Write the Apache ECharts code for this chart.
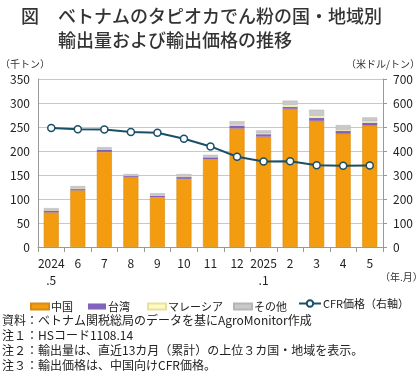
<!DOCTYPE html>
<html><head><meta charset="utf-8">
<script src="https://cdn.jsdelivr.net/npm/echarts@6/dist/echarts.min.js"></script>
<style>html,body{margin:0;padding:0;background:#fff}#c{width:420px;height:378px}</style>
</head><body><div id="c"></div>
<script>
const categories = ['2024\n.5','6','7','8','9','10','11','12','2025\n.1','2','3','4','5'];
const china    = [72,118,198,145,104,142,183,247,230,288,263,236,253];
const taiwan   = [4,3,5,3,3,4,4,6,5,4,6,6,6];
const malaysia = [1,1,1,1,1,1,1,2,2,4,4,2,3];
const other    = [4,5,4,3,4,5,4,7,6,9,13,10,8];
const cfr      = [496,491,490,479,476,451,419,376,356,357,341,339,340];
const seriesNames = ['中国','台湾','マレーシア','その他','CFR価格（右軸）'];
const notes = [
 '資料：ベトナム関税総局のデータを基にAgroMonitor作成',
 '注１：HSコード1108.14',
 '注２：輸出量は、直近13カ月（累計）の上位３カ国・地域を表示。',
 '注３：輸出価格は、中国向けCFR価格。'
];
const FF = '"Noto Sans CJK JP", "Noto Sans", sans-serif';
const chart = echarts.init(document.getElementById('c'), null, {renderer:'canvas'});
const barW = 15;
const legendX = [30, 88, 147, 233, 298];
const legends = seriesNames.map((n,i)=>({
  top:i===4?298:301,left:legendX[i],padding:0,itemWidth:i===4?22:18,itemHeight:i===4?8:6,itemGap:4,
  textStyle:{fontSize:11,color:'#222',fontFamily:FF,padding:[0,0,0,-3]},
  data:[i===4?{name:n}:{name:n,icon:'rect'}]
}));
const option = {
  animation:false,
  textStyle:{fontFamily:FF,color:'#222'},
  grid:{left:38,right:37,top:79,bottom:131},
  legend:legends,
  xAxis:{
    type:'category',data:categories,
    axisLine:{lineStyle:{color:'#999'}},
    axisTick:{show:true,alignWithLabel:false,lineStyle:{color:'#999'}},
    axisLabel:{interval:0,fontSize:12,color:'#222',lineHeight:17,margin:8,fontFamily:FF}
  },
  yAxis:[
    {type:'value',min:0,max:350,interval:50,
     axisLine:{show:true,lineStyle:{color:'#999'}},axisTick:{show:false},
     axisLabel:{fontSize:12,color:'#222',margin:8,fontFamily:FF},
     splitLine:{lineStyle:{color:'#c8c8c8'}}},
    {type:'value',min:0,max:700,interval:100,
     axisLine:{show:true,lineStyle:{color:'#999'}},axisTick:{show:true,length:4,lineStyle:{color:'#999'}},
     axisLabel:{fontSize:12,color:'#222',margin:10,fontFamily:FF},
     splitLine:{show:false}}
  ],
  series:[
    {name:seriesNames[0],type:'bar',stack:'s',barWidth:barW,data:china,
     itemStyle:{color:'#F39C0F',borderColor:'#D98A10',borderWidth:0.6}},
    {name:seriesNames[1],type:'bar',stack:'s',barWidth:barW,data:taiwan,
     itemStyle:{color:'#7755B5',decal:{symbol:'circle',symbolSize:0.5,dashArrayX:[2,0],dashArrayY:[2,0],color:'rgba(200,180,240,0.7)'}}},
    {name:seriesNames[2],type:'bar',stack:'s',barWidth:barW,data:malaysia,
     itemStyle:{color:'#FFFBC0',borderColor:'#E8E0A0',borderWidth:0.5}},
    {name:seriesNames[3],type:'bar',stack:'s',barWidth:barW,data:other,
     itemStyle:{color:'#C9C9C9',borderColor:'#B5B5B5',borderWidth:0.5}},
    {name:seriesNames[4],type:'line',yAxisIndex:1,data:cfr,
     symbol:'circle',symbolSize:7,
     lineStyle:{color:'#1B4F68',width:2},
     itemStyle:{color:'#fff',borderColor:'#1B4F68',borderWidth:1.5}}
  ],
  graphic:[
    {type:'text',left:21,top:7,style:{text:'図',font:'500 18px '+FF,fill:'#333'}},
    {type:'text',left:58,top:7,style:{text:'ベトナムのタピオカでん粉の国・地域別',font:'500 18px '+FF,fill:'#333'}},
    {type:'text',left:58,top:31,style:{text:'輸出量および輸出価格の推移',font:'500 18px '+FF,fill:'#333'}},
    {type:'text',left:0,top:59,style:{text:'（千トン）',font:'10px '+FF,fill:'#333'}},
    {type:'text',right:0,top:59,style:{text:'（米ドル/トン）',font:'10px '+FF,fill:'#333'}},
    {type:'text',left:380,top:272,style:{text:'（年.月）',font:'10px '+FF,fill:'#333'}},
    {type:'text',left:2,top:314,style:{text:notes[0],font:'12px '+FF,fill:'#222'}},
    {type:'text',left:2,top:329,style:{text:notes[1],font:'12px '+FF,fill:'#222'}},
    {type:'text',left:2,top:344,style:{text:notes[2],font:'12px '+FF,fill:'#222'}},
    {type:'text',left:2,top:359,style:{text:notes[3],font:'12px '+FF,fill:'#222'}}
  ]
};
chart.setOption(option);
</script></body></html>
